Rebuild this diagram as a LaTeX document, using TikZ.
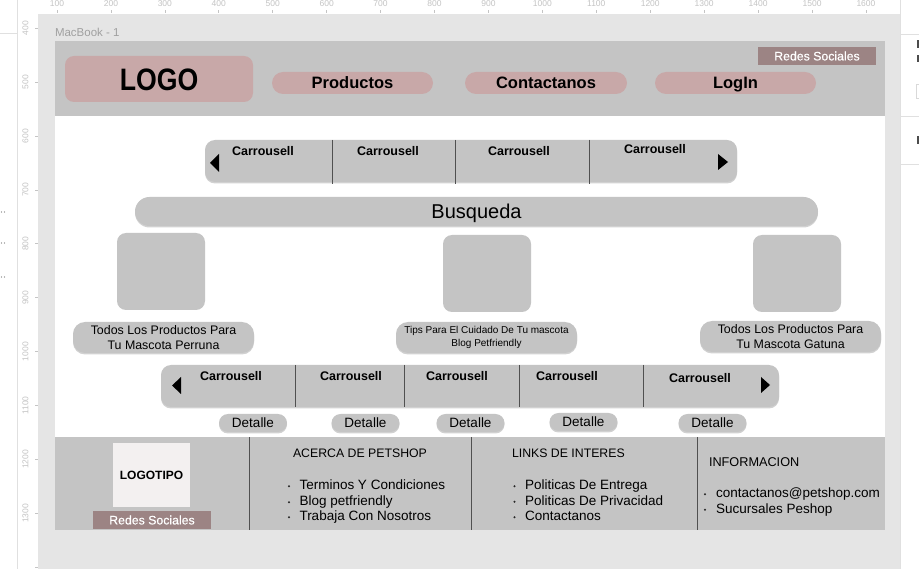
\documentclass[tikz,border=0pt]{standalone}
\usepackage{fontspec}
\usepackage{graphicx}
\setmainfont{Liberation Sans}
\newfontfamily\medfont[FakeBold=0.6]{Liberation Sans}
\usetikzlibrary{shadows}
\definecolor{canvas}{HTML}{E5E5E5}
\definecolor{boxgray}{HTML}{C4C4C4}
\definecolor{pinkbox}{HTML}{C8A8A8}
\definecolor{mauve}{HTML}{9C8484}
\definecolor{logobg}{HTML}{F3F0F0}
\definecolor{rulertxt}{HTML}{C4C4C4}
\definecolor{divline}{HTML}{505050}
\definecolor{frametxt}{HTML}{A0A0A0}
\begin{document}
\begin{tikzpicture}[x=1pt,y=-1pt,
  every node/.style={inner sep=0pt,outer sep=0pt},
  softshadow/.style={drop shadow={shadow xshift=0pt,shadow yshift=-1.5pt,opacity=0.18,fill=black}},
  pinkpill/.style={fill=pinkbox,rounded corners=11pt,minimum height=22pt,minimum width=161pt,
     font=\fontsize{16.5}{18}\selectfont\bfseries,text height=11.8pt,text depth=0pt},
  redes/.style={fill=mauve,minimum width=118pt,minimum height=18pt,text=white,
     font=\fontsize{12.3}{13}\medfont,text height=8.8pt,text depth=0pt},
  carousel/.style={fill=boxgray,rounded corners=10pt,minimum height=42pt,softshadow},
  cartext/.style={font=\fontsize{12.5}{13}\selectfont\bfseries},
  imgbox/.style={fill=boxgray,rounded corners=9pt,minimum width=88pt,minimum height=77pt},
  labelpill/.style={fill=boxgray,rounded corners=12pt,minimum width=181pt,minimum height=31pt,align=center,softshadow},
  detalle/.style={fill=boxgray,rounded corners=9pt,minimum width=68pt,minimum height=18pt,
     font=\fontsize{13.5}{14}\selectfont,text height=9.7pt,text depth=0pt,softshadow},
  foothead/.style={anchor=base west,font=\fontsize{12.3}{14}\selectfont},
  footitem/.style={anchor=base west,font=\fontsize{13.5}{15}\selectfont},
  rulenum/.style={font=\fontsize{8.5}{9}\selectfont,text=rulertxt},
  rulertick/.style={draw=rulertxt,line width=0.6pt},
  divider/.style={draw=divline,line width=0.7pt},
  bul/.style={fill=black!85}
]
\clip (0,0) rectangle (919,569);
\useasboundingbox (0,0) rectangle (919,569);
% background and canvas
\fill[white] (0,0) rectangle (919,569);
\fill[canvas] (38,14) rectangle (900,569);
\draw[black!12,line width=0.6pt] (17,0) -- (17,569);
\draw[black!12,line width=0.6pt] (0,33) -- (17,33);
\draw[black!12,line width=0.6pt] (900,0) -- (900,569);
\draw[black!12,line width=0.6pt] (900,34) -- (919,34);
\draw[black!12,line width=0.6pt] (900,116) -- (919,116);
\draw[black!12,line width=0.6pt] (900,164) -- (919,164);
\fill[black!70] (916.5,40) rectangle (919,48);
\fill[black!70] (916.5,55) rectangle (919,62);
\fill[black!70] (916.5,136) rectangle (919,144);
\draw[black!15] (916,84) rectangle (920,98);
\foreach \yy in {212,243,277} {
  \fill[black!55] (1.5,\yy) circle (0.6);
  \fill[black!55] (4.5,\yy) circle (0.6);
}
% rulers
\foreach \v in {100,200,...,1600} {
  \pgfmathsetmacro\xx{57+(\v-100)*0.5393}
  \node[rulenum] (rt\v) at (\xx,4) {\v};
  \draw[rulertick] (\xx,10.5) -- (\xx,13.5);
}
\foreach \v in {400,500,...,1300} {
  \pgfmathsetmacro\yy{82+(\v-500)*0.5393}
  \node[rulenum,rotate=90] (rl\v) at (25.5,\yy) {\v};
  \draw[rulertick] (35,\yy) -- (38,\yy);
}
\draw[rulertick] (35,567.3) -- (38,567.3);
% frame
\node[anchor=base west,font=\fontsize{11.5}{12}\selectfont,text=frametxt] (framename) at (55,37) {MacBook - 1};
\fill[white] (55,41) rectangle (885,530);
% header
\fill[boxgray] (55,41) rectangle (885,116);
\node[fill=pinkbox,rounded corners=9pt,minimum width=188pt,minimum height=46pt,
      font=\fontsize{31}{31}\selectfont\bfseries,text height=22.2pt,text depth=0pt] (logo) at (159,79) {\scalebox{0.86}[1]{LOGO}};
\node[pinkpill] (productos) at (352.5,83) {Productos};
\node[pinkpill,minimum width=162pt] (contactanos) at (546,83) {Contactanos};
\node[pinkpill] (login) at (735.5,83) {LogIn};
\node[redes] (redes1) at (817,56) {Redes Sociales};
% carousel 1
\node[carousel,minimum width=532pt] (car1) at (471,161) {};
\foreach \xx in {332,455,589} { \draw[divider] (\xx,140) -- (\xx,184); }
\node[cartext] (c1a) at (263,151.5) {Carrousell};
\node[cartext] (c1b) at (388,151.5) {Carrousell};
\node[cartext] (c1c) at (519,151.5) {Carrousell};
\node[cartext] (c1d) at (655,149.5) {Carrousell};
\fill (219,154) -- (210,163) -- (219,172) -- cycle;
\fill (718,154) -- (728,162) -- (718,170) -- cycle;
% search
\node[fill=boxgray,rounded corners=14.5pt,minimum width=683pt,minimum height=29pt,softshadow,
      font=\fontsize{20}{22}\selectfont,text height=14.3pt,text depth=0pt] (busqueda) at (476.5,211.5) {Busqueda};
% image boxes
\node[imgbox] (img1) at (161,271.5) {};
\node[imgbox] (img2) at (487,273.5) {};
\node[imgbox] (img3) at (797,273.5) {};
% labels
\node[labelpill,font=\fontsize{12.4}{15}\selectfont] (lab1) at (163.5,337.5) {Todos Los Productos Para\\Tu Mascota Perruna};
\node[labelpill,font=\fontsize{10}{12.5}\selectfont] (lab2) at (486.5,337.5) {Tips Para El Cuidado De Tu mascota\\Blog Petfriendly};
\node[labelpill,font=\fontsize{12.4}{15}\selectfont] (lab3) at (790.5,336.5) {Todos Los Productos Para\\Tu Mascota Gatuna};
% carousel 2
\node[carousel,minimum width=618pt] (car2) at (470,386) {};
\foreach \xx in {295,404,519,643} { \draw[divider] (\xx,365) -- (\xx,407); }
\node[cartext] (c2a) at (231,376) {Carrousell};
\node[cartext] (c2b) at (351,376) {Carrousell};
\node[cartext] (c2c) at (457,376) {Carrousell};
\node[cartext] (c2d) at (567,376) {Carrousell};
\node[cartext] (c2e) at (700,378) {Carrousell};
\fill (181,377) -- (172,385.5) -- (181,394) -- cycle;
\fill (761,377) -- (770,385) -- (761,393) -- cycle;
% detalle buttons
\node[detalle] (d1) at (253,423) {Detalle};
\node[detalle] (d2) at (365.5,423) {Detalle};
\node[detalle] (d3) at (470.5,423) {Detalle};
\node[detalle] (d4) at (583.5,422) {Detalle};
\node[detalle] (d5) at (712.5,423) {Detalle};
% footer
\fill[boxgray] (55,437) rectangle (885,530);
\node[fill=logobg,minimum width=77pt,minimum height=64pt,font=\fontsize{12}{13}\selectfont\bfseries] (logotipo) at (151.5,475) {LOGOTIPO};
\node[redes] (redes2) at (152,520) {Redes Sociales};
\draw[divider] (249,437) -- (249,530);
\draw[divider] (471,437) -- (471,530);
\draw[divider] (697,437) -- (697,530);
\node[foothead] (h1) at (293,457.3) {ACERCA DE PETSHOP};
\node[footitem] (i11) at (299.5,489.8) {Terminos Y Condiciones};
\node[footitem] (i12) at (299.5,505.8) {Blog petfriendly};
\node[footitem] (i13) at (299.5,520.8) {Trabaja Con Nosotros};
\foreach \yy in {486.3,502.3,517.3} { \fill[bul] (289,\yy) circle (1.1); }
\node[foothead] (h2) at (512,457.3) {LINKS DE INTERES};
\node[footitem] (i21) at (525,489.8) {Politicas De Entrega};
\node[footitem] (i22) at (525,505.3) {Politicas De Privacidad};
\node[footitem] (i23) at (525,520.8) {Contactanos};
\foreach \yy in {486.3,501.8,517.3} { \fill[bul] (514.5,\yy) circle (1.1); }
\node[foothead,font=\fontsize{12.7}{14}\selectfont] (h3) at (709,466.5) {INFORMACION};
\node[footitem] (i31) at (716,497.8) {contactanos@petshop.com};
\node[footitem] (i32) at (716,513.3) {Sucursales Peshop};
\foreach \yy in {494.3,509.8} { \fill[bul] (705,\yy) circle (1.1); }
\end{tikzpicture}
\end{document}
